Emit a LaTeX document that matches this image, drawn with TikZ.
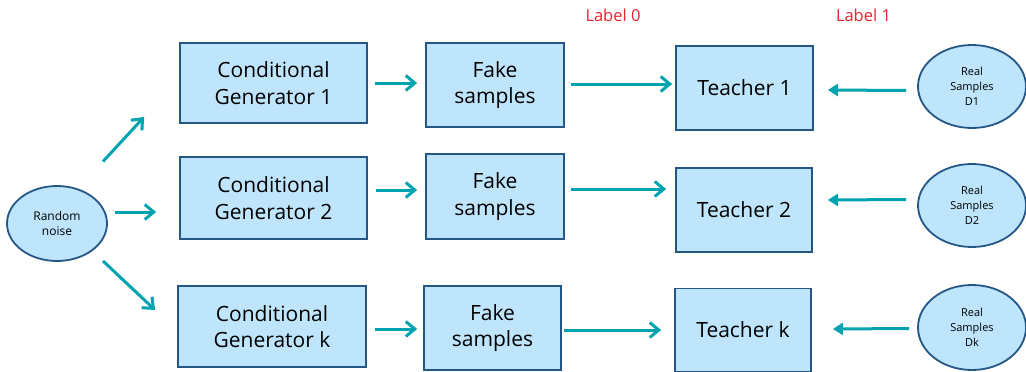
\documentclass[tikz,border=0pt]{standalone}
\usepackage{fontspec}
\setmainfont{Open Sans}
\usetikzlibrary{arrows, arrows.meta}
\usetikzlibrary{positioning, shapes.geometric}
\definecolor{blockfill}{RGB}{190,229,252}
\definecolor{blockline}{RGB}{36,86,134}
\definecolor{flowteal}{RGB}{0,163,175}
\definecolor{labelred}{RGB}{232,35,45}

\begin{document}
\begin{tikzpicture}[x=1pt,y=-1pt]
\tikzstyle{every node}+=[inner sep=0pt, align=center]
\tikzstyle{block}=[rectangle, draw=blockline, fill=blockfill, line width=1.8pt, font=\fontsize{21}{26.5}\selectfont]
\tikzstyle{blob}=[ellipse, draw=blockline, fill=blockfill, line width=1.8pt, font=\fontsize{11}{15}\selectfont]
\tikzstyle{flow}=[draw=flowteal, line width=3pt, -{Straight Barb[length=9pt,width=15pt]}]
\tikzstyle{back}=[draw=flowteal, line width=3pt, -{Triangle[length=10pt,width=12pt]}]
\useasboundingbox (0,0) rectangle (1026,372);

% noise source
\node[blob, minimum width=100pt, minimum height=75pt, font=\fontsize{12}{14.5}\selectfont] (noise) at (57,223.5) {Random\\noise};

% generators
\node[block, minimum width=187pt, minimum height=80pt] (gen1) at (273.5,83) {Conditional\\Generator 1};
\node[block, minimum width=187pt, minimum height=82pt] (gen2) at (273.5,198) {Conditional\\Generator 2};
\node[block, minimum width=188pt, minimum height=81pt] (gen3) at (272,326.5) {Conditional\\Generator k};

% fake samples
\node[block, minimum width=138pt, minimum height=84pt] (fake1) at (495,85) {Fake\\samples};
\node[block, minimum width=138pt, minimum height=85pt] (fake2) at (495,196.5) {Fake\\samples};
\node[block, minimum width=137pt, minimum height=84pt] (fake3) at (492.5,328) {Fake\\samples};

% teachers
\node[block, minimum width=137pt, minimum height=84pt] (teach1) at (744.5,88) {Teacher 1};
\node[block, minimum width=136pt, minimum height=84pt] (teach2) at (744,210) {Teacher 2};
\node[block, minimum width=136pt, minimum height=83pt] (teach3) at (743,330) {Teacher k};

% real samples
\node[blob, minimum width=108pt, minimum height=83pt] (real1) at (972,86.5) {Real\\Samples\\D1};
\node[blob, minimum width=108pt, minimum height=83pt] (real2) at (972,205.5) {Real\\Samples\\D2};
\node[blob, minimum width=108pt, minimum height=85pt] (real3) at (972,327.5) {Real\\Samples\\Dk};

% labels
\node[text=labelred, font=\fontsize{16.5}{19}\selectfont] (lab0) at (613,15) {Label 0};
\node[text=labelred, font=\fontsize{16.5}{19}\selectfont] (lab1) at (863.5,15) {Label 1};

% noise to generators
\draw[flow] ([shift={(46,-62)}]noise.center) -- ([shift={(-35,34)}]gen1.west);
\draw[flow] ([shift={(7,-11.5)}]noise.east) -- ([shift={(-23,14)}]gen2.west);
\draw[flow] ([shift={(46,37.5)}]noise.center) -- ([shift={(-22,-16.5)}]gen3.west);

% generators to fake samples
\draw[flow] ([shift={(7,0)}]gen1.east) -- ([shift={(-8,-2)}]fake1.west);
\draw[flow] ([shift={(8,-8)}]gen2.east) -- ([shift={(-8,-6.5)}]fake2.west);
\draw[flow] ([shift={(8,2.5)}]gen3.east) -- ([shift={(-6,1)}]fake3.west);

% fake samples to teachers
\draw[flow] ([shift={(6,-1)}]fake1.east) -- ([shift={(-3,-4)}]teach1.west);
\draw[flow] ([shift={(6,-7.5)}]fake2.east) -- ([shift={(-9,-21)}]teach2.west);
\draw[flow] ([shift={(2,2)}]fake3.east) -- ([shift={(-13,0)}]teach3.west);

% real samples to teachers
\draw[back] ([shift={(-11,4)}]real1.west) -- ([shift={(14,2)}]teach1.east);
\draw[back] ([shift={(-11,-6)}]real2.west) -- ([shift={(15,-10)}]teach2.east);
\draw[back] ([shift={(-8,1)}]real3.west) -- ([shift={(21,-1)}]teach3.east);
\end{tikzpicture}
\end{document}
